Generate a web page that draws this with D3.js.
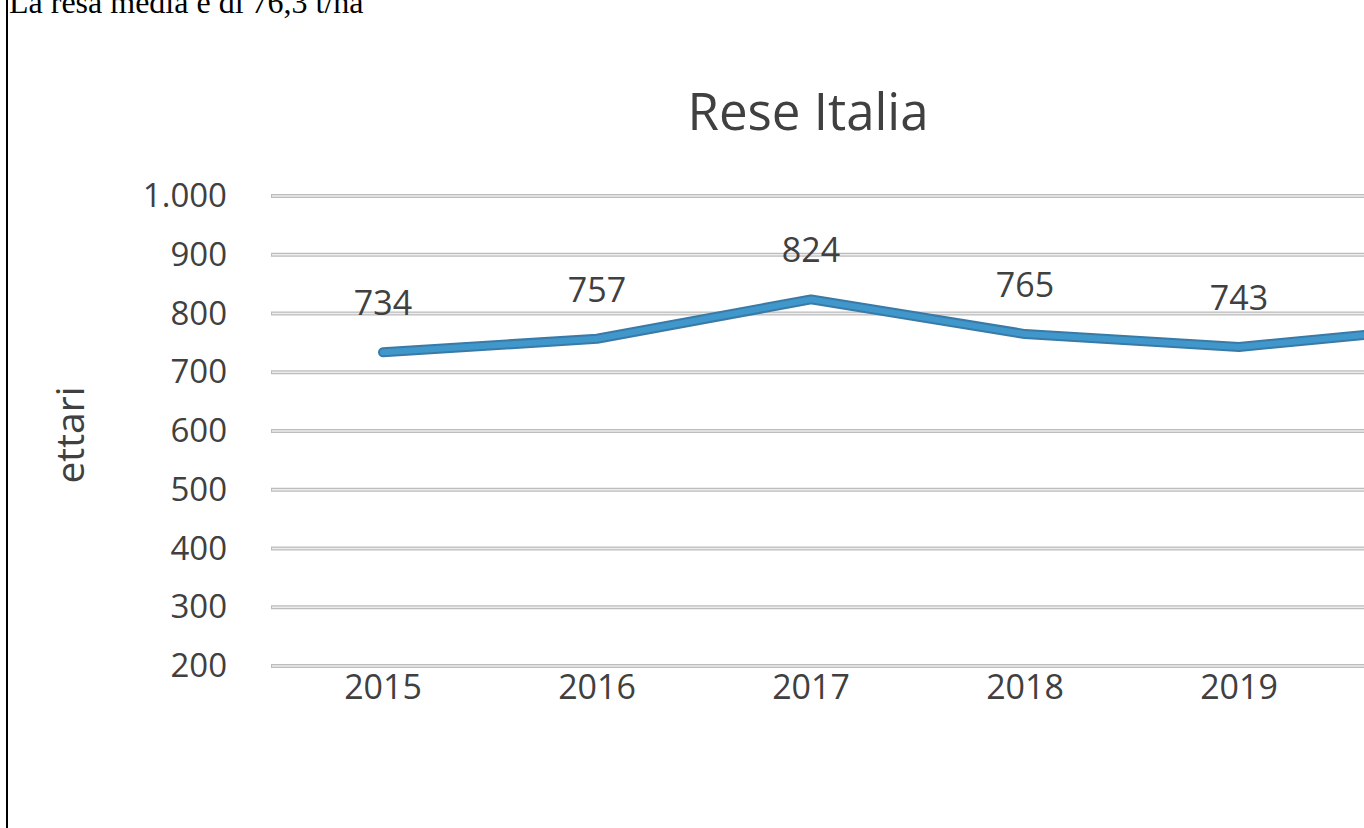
<!DOCTYPE html>
<html>
<head>
<meta charset="utf-8">
<script src="https://cdn.jsdelivr.net/npm/d3@7"></script>
<style>
  html, body { margin: 0; padding: 0; background: #fff; overflow: hidden; }
  svg { display: block; }
</style>
</head>
<body>
<svg id="chart" width="1364" height="828"></svg>
<script>
const years = ["2015", "2016", "2017", "2018", "2019", "2020"];
const values = [734, 757, 824, 765, 743, 778];
const labelledYears = ["2015", "2016", "2017", "2018", "2019"];
const yTicks = [200, 300, 400, 500, 600, 700, 800, 900, 1000];
const titleText = "Rese Italia";
const yAxisTitle = "ettari";
const noteText = "La resa media è di 76,3 t/ha";

const svg = d3.select("#chart");
const font = "'Open Sans', 'Noto Sans', sans-serif";
const locale = d3.formatLocale({ decimal: ",", thousands: ".", grouping: [3], currency: ["", "€"] });
const fmt = locale.format(",d");

// page frame and note text
svg.append("line").attr("x1", 7).attr("x2", 7).attr("y1", 0).attr("y2", 828)
  .attr("stroke", "#000").attr("stroke-width", 2);
svg.append("text").attr("x", 9).attr("y", 13)
  .attr("font-family", "'Liberation Serif', 'Times New Roman', serif")
  .attr("font-size", 32).attr("fill", "#000").text(noteText);

const plotLeft = 271;
const x = d3.scaleBand().domain(years).range([276, 276 + years.length * 214]);
const y = d3.scaleLinear().domain([200, 1000]).range([666, 196]);
const cx = d => x(d) + x.bandwidth() / 2;

// gridlines
const grid = svg.append("g");
yTicks.forEach(t => {
  grid.append("line").attr("x1", plotLeft).attr("x2", 1364).attr("y1", y(t)).attr("y2", y(t))
    .attr("stroke", "#bdbdbd").attr("stroke-width", 4);
  grid.append("line").attr("x1", plotLeft + 1).attr("x2", 1364).attr("y1", y(t)).attr("y2", y(t))
    .attr("stroke", "#ececec").attr("stroke-width", 1.5);
});

// y axis
const yAxis = svg.append("g").attr("transform", `translate(${plotLeft},0)`)
  .call(d3.axisLeft(y).tickValues(yTicks).tickFormat(fmt).tickSize(0).tickPadding(44));
yAxis.select(".domain").remove();
yAxis.selectAll("text").attr("font-family", font).attr("font-size", 33).attr("fill", "#404040");

// x axis
const xAxis = svg.append("g").attr("transform", `translate(0,666)`)
  .call(d3.axisBottom(x).tickValues(labelledYears).tickSize(0).tickPadding(9));
xAxis.select(".domain").remove();
xAxis.selectAll("text").attr("font-family", font).attr("font-size", 34).attr("fill", "#404040");

// title
svg.append("text").attr("x", 808).attr("y", 130).attr("text-anchor", "middle")
  .attr("font-family", font).attr("font-size", 51).attr("fill", "#404040").text(titleText);

// y axis title
svg.append("text").attr("transform", "translate(84,435) rotate(-90)").attr("text-anchor", "middle")
  .attr("font-family", font).attr("font-size", 39).attr("fill", "#404040").text(yAxisTitle);

// line
const data = years.map((yr, i) => ({ year: yr, value: values[i] }));
const line = d3.line().x(d => cx(d.year)).y(d => y(d.value));
svg.append("path").datum(data).attr("d", line).attr("fill", "none")
  .attr("stroke", "#3a7aa6").attr("stroke-width", 10).attr("stroke-linejoin", "round").attr("stroke-linecap", "round");
svg.append("path").datum(data).attr("d", line).attr("fill", "none")
  .attr("stroke", "#3f97cc").attr("stroke-width", 6).attr("stroke-linejoin", "round").attr("stroke-linecap", "round");

// data labels
svg.append("g").selectAll("text").data(data.filter(d => labelledYears.includes(d.year))).join("text")
  .attr("x", d => cx(d.year)).attr("y", d => y(d.value) - 50)
  .attr("text-anchor", "middle").attr("dominant-baseline", "central")
  .attr("font-family", font).attr("font-size", 34).attr("fill", "#404040")
  .text(d => fmt(d.value));
</script>
</body>
</html>
